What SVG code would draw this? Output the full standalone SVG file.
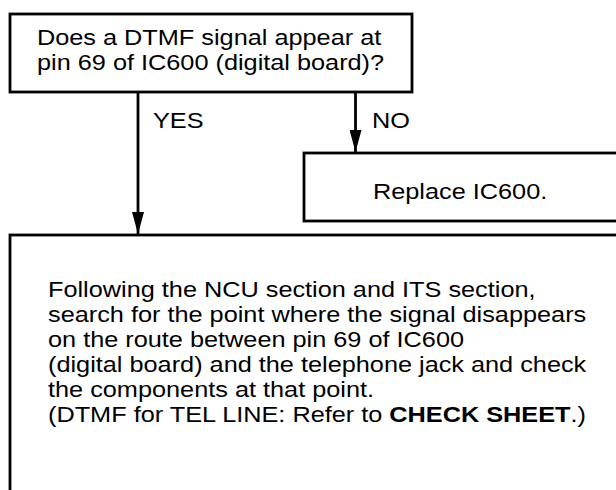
<svg xmlns="http://www.w3.org/2000/svg" width="616" height="490" viewBox="0 0 616 490">
<defs>
<style>
.box{fill:#fff;stroke:#000;stroke-width:2.8}
.t{font-family:"Liberation Sans",Arial,sans-serif;font-size:22px;fill:#000}
.b{font-weight:bold}
.line{stroke:#000;stroke-width:2.8;fill:none}
</style>
<marker id="ah" markerUnits="userSpaceOnUse" markerWidth="22" markerHeight="12" refX="22" refY="6" orient="auto" viewBox="0 0 22 12">
<path d="M0,0 L22,6 L0,12 Z" fill="#000"/>
</marker>
</defs>
<rect x="0" y="0" width="616" height="490" fill="#fff"/>
<g id="connectors">
<line class="line" x1="138" y1="92" x2="138" y2="234" marker-end="url(#ah)"/>
<line class="line" x1="355.5" y1="92" x2="355.5" y2="152" marker-end="url(#ah)"/>
<text class="t" transform="matrix(1.15 0 0 1 153 128)">YES</text>
<text class="t" transform="matrix(1.15 0 0 1 372 128)">NO</text>
</g>
<g id="question">
<rect class="box" x="10" y="14" width="402" height="78"/>
<text class="t" transform="matrix(1.15 0 0 1 37 45)">Does a DTMF signal appear at</text>
<text class="t" transform="matrix(1.15 0 0 1 37 70)">pin 69 of IC600 (digital board)?</text>
</g>
<g id="replace">
<rect class="box" x="304" y="153" width="330" height="68"/>
<text class="t" transform="matrix(1.15 0 0 1 373 199)">Replace IC600.</text>
</g>
<g id="follow">
<rect class="box" x="10" y="235" width="630" height="280"/>
<text class="t" transform="matrix(1.15 0 0 1 48 297)">Following the NCU section and ITS section,</text>
<text class="t" transform="matrix(1.15 0 0 1 48 322)">search for the point where the signal disappears</text>
<text class="t" transform="matrix(1.15 0 0 1 48 347)">on the route between pin 69 of IC600</text>
<text class="t" transform="matrix(1.15 0 0 1 48 372)">(digital board) and the telephone jack and check</text>
<text class="t" transform="matrix(1.15 0 0 1 48 397)">the components at that point.</text>
<text class="t" transform="matrix(1.15 0 0 1 48 422)">(DTMF for TEL LINE: Refer to <tspan class="b">CHECK SHEET</tspan>.)</text>
</g>
</svg>
